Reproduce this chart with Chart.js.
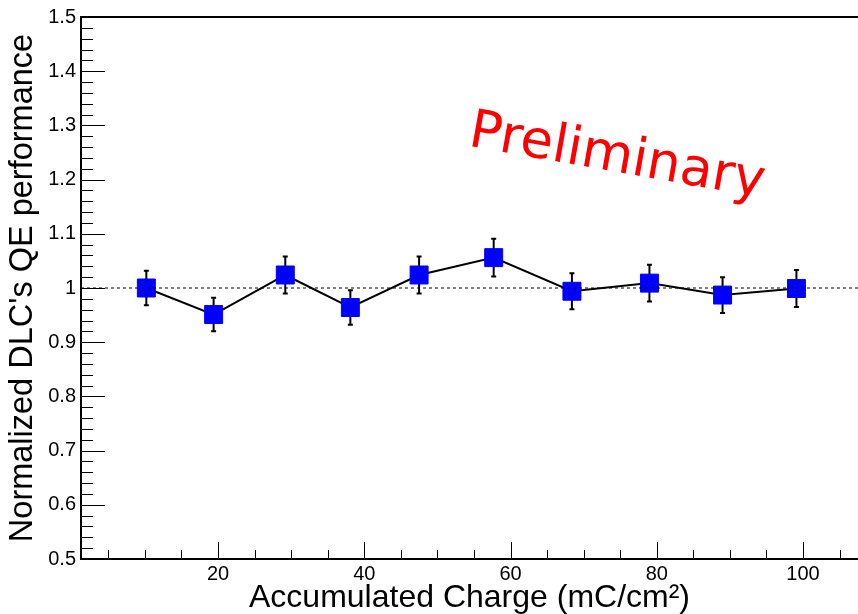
<!DOCTYPE html>
<html lang="en">
<head>
<meta charset="UTF-8">
<title>Normalized DLC QE vs accumulated charge</title>
<script src="https://cdn.jsdelivr.net/npm/chart.js"></script>
<style>
  html, body { margin: 0; padding: 0; background: #fff; overflow: hidden; }
  canvas { display: block; }
</style>
</head>
<body>
<canvas id="chart" width="858" height="614" style="width:858px;height:614px"></canvas>
<script>
// accumulated charge (mC/cm2) per measurement
const charge = [10.2, 19.4, 29.2, 38.1, 47.5, 57.7, 68.4, 79.0, 89.0, 99.1];
// QE normalized to the first measurement, with its error
const qe    = [1.000, 0.951, 1.024, 0.964, 1.024, 1.056, 0.994, 1.009, 0.987, 0.999];
const qeErr = [0.032, 0.031, 0.034, 0.032, 0.034, 0.035, 0.033, 0.034, 0.033, 0.034];

const refLevel = 1.0;

const xTicks = [20, 40, 60, 80, 100];
const xTickLabels = ['20', '40', '60', '80', '100'];
const yTicks = [0.5, 0.6, 0.7, 0.8, 0.9, 1.0, 1.1, 1.2, 1.3, 1.4, 1.5];
const yTickLabels = ['0.5', '0.6', '0.7', '0.8', '0.9', '1', '1.1', '1.2', '1.3', '1.4', '1.5'];

// visible range; the frame is cut at the right edge of the canvas
const xMin = 1.265, xMax = 107.52;
const yMin = 0.5, yMax = 1.5;

Chart.defaults.font.family = '"Liberation Sans", Arial, sans-serif';
Chart.defaults.color = '#000';

// frame, inward ticks (ROOT style) and error bars
const rootFrame = {
    id: 'rootFrame',
    beforeDatasetsDraw(chart) {
        const ctx = chart.ctx;
        const xs = chart.scales.x, ys = chart.scales.y;
        const a = chart.chartArea;
        ctx.save();
        ctx.strokeStyle = '#000';
        ctx.lineWidth = 1;
        ctx.beginPath();
        // y ticks: major every 0.1, minor every 0.02
        for (let i = 0; i <= 50; i++) {
            const v = yMin + i * 0.02;
            const py = Math.round(ys.getPixelForValue(v)) + 0.5;
            const len = (i % 5 === 0) ? 24 : 12;
            ctx.moveTo(a.left, py);
            ctx.lineTo(a.left + len, py);
        }
        // x ticks: major every 20, minor every 5
        for (let v = 5; v < xMax; v += 5) {
            const px = Math.round(xs.getPixelForValue(v)) + 0.5;
            const len = (v % 20 === 0) ? 17 : 9;
            ctx.moveTo(px, a.bottom);
            ctx.lineTo(px, a.bottom - len);
        }
        ctx.stroke();

        // axes and top border
        ctx.lineWidth = 2;
        ctx.beginPath();
        ctx.moveTo(a.right, a.top);
        ctx.lineTo(a.left, a.top);
        ctx.lineTo(a.left, a.bottom);
        ctx.lineTo(a.right, a.bottom);
        ctx.stroke();

        // error bars with small end caps
        ctx.lineWidth = 2;
        ctx.beginPath();
        for (let i = 0; i < charge.length; i++) {
            const px = xs.getPixelForValue(charge[i]);
            const hi = ys.getPixelForValue(qe[i] + qeErr[i]);
            const lo = ys.getPixelForValue(qe[i] - qeErr[i]);
            ctx.moveTo(px, hi);
            ctx.lineTo(px, lo);
            ctx.moveTo(px - 2.5, hi);
            ctx.lineTo(px + 2.5, hi);
            ctx.moveTo(px - 2.5, lo);
            ctx.lineTo(px + 2.5, lo);
        }
        ctx.stroke();
        ctx.restore();
    },
    afterDraw(chart) {
        const ctx = chart.ctx;
        ctx.save();
        ctx.translate(617, 158);
        ctx.rotate(10 * Math.PI / 180);
        ctx.font = '53px "DejaVu Sans"';
        ctx.fillStyle = '#ff0000';
        ctx.textAlign = 'center';
        ctx.textBaseline = 'middle';
        ctx.fillText('Preliminary', 0, 0);
        ctx.restore();
    }
};

new Chart(document.getElementById('chart'), {
    type: 'line',
    data: {
        datasets: [
            {
                // reference line at 1
                data: [{ x: xMin, y: refLevel }, { x: xMax, y: refLevel }],
                borderColor: '#000',
                borderWidth: 1,
                borderDash: [3, 3],
                pointRadius: 0
            },
            {
                data: charge.map((c, i) => ({ x: c, y: qe[i] })),
                borderColor: '#000',
                borderWidth: 2,
                tension: 0,
                pointStyle: 'rect',
                pointRadius: 12.7,
                pointBackgroundColor: '#0000ff',
                pointBorderColor: '#0000ff',
                pointBorderWidth: 1
            }
        ]
    },
    options: {
        responsive: false,
        animation: false,
        events: [],
        layout: { autoPadding: false, padding: { left: 0, top: 17, right: 0, bottom: 0 } },
        plugins: { legend: { display: false }, tooltip: { enabled: false } },
        scales: {
            x: {
                type: 'linear',
                min: xMin,
                max: xMax,
                afterBuildTicks: s => { s.ticks = xTicks.map(v => ({ value: v })); },
                afterFit: s => { s.height = 55; s.paddingLeft = 0; s.paddingRight = 0; },
                grid: { display: false, drawTicks: false },
                border: { display: false },
                ticks: {
                    autoSkip: false,
                    maxRotation: 0,
                    minRotation: 0,
                    padding: 3,
                    font: { size: 20 },
                    callback: (v, i) => xTickLabels[i]
                },
                title: {
                    display: true,
                    text: 'Accumulated Charge (mC/cm²)',
                    font: { size: 32, lineHeight: 1 },
                    padding: { top: 0, bottom: 0 }
                }
            },
            y: {
                type: 'linear',
                min: yMin,
                max: yMax,
                afterBuildTicks: s => { s.ticks = yTicks.map(v => ({ value: v })); },
                afterFit: s => { s.width = 81; s.paddingTop = 0; s.paddingBottom = 0; },
                grid: { display: false, drawTicks: false },
                border: { display: false },
                ticks: {
                    autoSkip: false,
                    padding: 5,
                    font: { size: 20 },
                    callback: (v, i) => yTickLabels[i]
                },
                title: {
                    display: true,
                    text: "Normalized DLC's QE performance",
                    font: { size: 32.5, lineHeight: 1 },
                    padding: { top: 7, bottom: 0 }
                }
            }
        }
    },
    plugins: [rootFrame]
});
</script>
</body>
</html>
